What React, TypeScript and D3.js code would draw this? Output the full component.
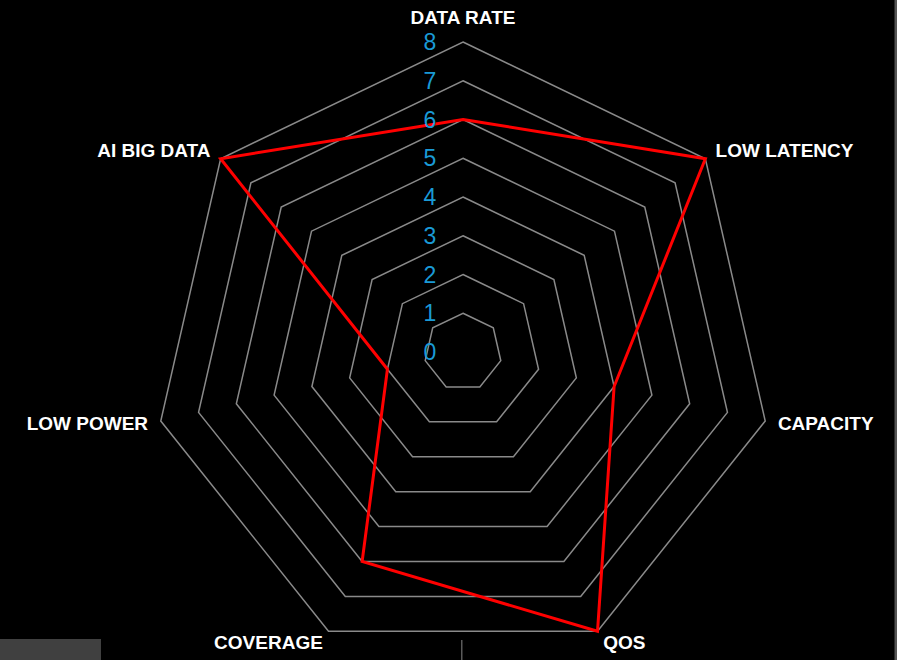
import React from "react";
import * as d3 from "d3";

const axes: string[] = ["DATA RATE", "LOW LATENCY", "CAPACITY", "QOS", "COVERAGE", "LOW POWER", "AI BIG DATA"];
const values: number[] = [6, 8, 4, 8, 6, 2, 8];
const ticks: number[] = [0, 1, 2, 3, 4, 5, 6, 7, 8];
const gridLevels: number[] = [1, 2, 3, 4, 5, 6, 7, 8];

const W = 897;
const H = 660;
const cx = 463;
const cy = 352;
const R = 310;

export default function App() {
  const r = d3.scaleLinear().domain([0, 8]).range([0, R]);
  const n = axes.length;
  const ang = (i: number) => (i * 2 * Math.PI) / n;
  const pt = (i: number, v: number): [number, number] => [
    cx + r(v) * Math.sin(ang(i)),
    cy - r(v) * Math.cos(ang(i)),
  ];
  const line = d3.line<[number, number]>().curve(d3.curveLinearClosed);

  return (
    <svg
      width={W}
      height={H}
      style={{ position: "fixed", left: 0, top: 0, background: "#000" }}
    >
      <rect x={0} y={0} width={W} height={H} fill="#000" />
      {gridLevels.map((lv) => (
        <path
          key={lv}
          d={line(axes.map((_, i) => pt(i, lv))) || ""}
          fill="none"
          stroke="#8a8a8a"
          strokeWidth={1.5}
        />
      ))}
      <path
        d={line(values.map((v, i) => pt(i, v))) || ""}
        fill="none"
        stroke="#ff0000"
        strokeWidth={3}
        strokeLinejoin="miter"
      />
      {ticks.map((t) => (
        <text
          key={t}
          x={430}
          y={cy - r(t)}
          textAnchor="middle"
          dominantBaseline="central"
          fill="#1a9ad6"
          fontFamily="Liberation Sans, Arial, sans-serif"
          fontSize={23}
        >
          {t}
        </text>
      ))}
      {axes.map((a, i) => {
        const s = Math.sin(ang(i));
        const c = Math.cos(ang(i));
        if (Math.abs(s) < 0.01) {
          return (
            <text
              key={a}
              x={cx}
              y={cy - R - 18}
              textAnchor="middle"
              fill="#fff"
              fontWeight="bold"
              fontFamily="Liberation Sans, Arial, sans-serif"
              fontSize={19}
            >
              {a}
            </text>
          );
        }
        const d = R + 13;
        const isBottom = c < -0.8;
        return (
          <text
            key={a}
            x={cx + d * s}
            y={isBottom ? cy + R * 0.901 + 11 : cy - d * c}
            textAnchor={s > 0 ? "start" : "end"}
            dominantBaseline="central"
            fill="#fff"
            fontWeight="bold"
            fontFamily="Liberation Sans, Arial, sans-serif"
            fontSize={19}
          >
            {a}
          </text>
        );
      })}
      <rect x={0} y={639} width={101} height={21} fill="#404040" />
      <rect x={461} y={640} width={1.5} height={20} fill="#5a5a5a" />
      <rect x={894.5} y={0} width={2.5} height={H} fill="#555" />
    </svg>
  );
}
